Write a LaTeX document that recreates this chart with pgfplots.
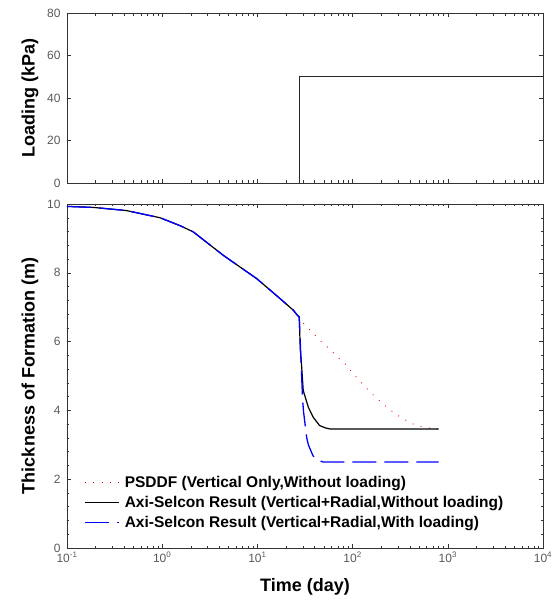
\documentclass[border=0pt]{standalone}
\usepackage{fontspec}
\setmainfont{Liberation Sans}
\usepackage{pgfplots}
\pgfplotsset{compat=1.18}
\begin{document}
\begin{tikzpicture}
\begin{semilogxaxis}[name=bot, scale only axis, width=476pt, height=344pt,
  xmin=0.1, xmax=10000,
  axis line style={black!80, line width=0.7pt},
  major tick length=4pt, minor tick length=2.5pt,
  tick style={black!80, line width=0.5pt},
  tick label style={font=\fontsize{12}{14}\selectfont, text=black!65},
  yticklabel style={xshift=-3pt, inner ysep=1pt},
  xticklabel style={yshift=-3pt, inner ysep=1pt},
  /pgf/number format/assume math mode=true,
  xlabel style={font=\fontsize{18}{21}\selectfont\bfseries, at={(axis description cs:0.5,-0.113)}, anchor=center},
  ylabel style={font=\fontsize{18}{21}\selectfont\bfseries, at={(axis description cs:-0.0777,0.5)}, anchor=center},
  xtick={0.1,1,10,100,1000,10000},
  ymin=0, ymax=10, ytick={0,2,4,6,8,10}, minor y tick num=4,
  xticklabels={10\textsuperscript{-1},10\textsuperscript{0},10\textsuperscript{1},10\textsuperscript{2},10\textsuperscript{3},10\textsuperscript{4}},
  xlabel={Time (day)},
  ylabel={Thickness of Formation (m)},
  legend style={at={(axis description cs:0.030,0.222)}, anchor=north west, draw=none, fill=none,
    font=\fontsize{15.5}{17}\selectfont\bfseries, row sep=3.5pt,
    /tikz/every odd column/.append style={column sep=3pt}},
  legend cell align=left,
  legend image code/.code={\draw (0pt,0pt) -- (34pt,0pt);},
]
\addplot[red, line width=0.9pt, dash pattern=on 0.9pt off 7.4pt] coordinates {
(0.1,9.93) (0.19,9.90) (0.42,9.81) (0.95,9.60) (1.54,9.37) (2.12,9.19) (4.37,8.51) (9.84,7.83) (17.3,7.25) (23.9,6.91) (26.4,6.76) (27.5,6.72)
(30,6.55) (45.7,6.03) (56,5.81) (67.6,5.58) (83,5.36) (99,5.1) (120,4.85) (145,4.6) (178,4.36) (214,4.16)
(269,3.94) (324,3.79) (398,3.65) (479,3.55) (603,3.5) (740,3.47) (800,3.46)};
\addlegendentry{PSDDF (Vertical Only,Without loading)}
\addplot[black, line width=1.2pt] coordinates {
(0.1,9.93) (0.19,9.90) (0.42,9.81) (0.95,9.60) (1.54,9.37) (2.12,9.19) (4.37,8.51) (9.84,7.83) (17.3,7.25) (23.9,6.91) (26.4,6.76) (27.5,6.72)
(28.2,5.8) (29.2,5.25) (30.3,4.58) (34.3,4.09) (38.6,3.80) (45,3.56) (52,3.49) (58,3.46) (800,3.46)};
\addlegendentry{Axi-Selcon Result (Vertical+Radial,Without loading)}
\addplot[blue, line width=1.3pt, dash pattern=on 24pt off 8pt] coordinates {
(0.1,9.93) (0.19,9.90) (0.42,9.81) (0.95,9.60) (1.54,9.37) (2.12,9.19) (4.37,8.51) (9.84,7.83) (17.3,7.25) (23.9,6.91) (26.4,6.76) (27.5,6.72)
(29.2,4.95) (29.9,4.28) (30.5,3.97) (33,3.2) (34.3,3.0) (38.4,2.68) (43,2.56) (49,2.5) (800,2.5)};
\addlegendentry{Axi-Selcon Result (Vertical+Radial,With loading)}
\end{semilogxaxis}
\begin{semilogxaxis}[scale only axis, width=476pt, height=170pt,
  at={(bot.north west)}, anchor=south west, yshift=21pt,
  xmin=0.1, xmax=10000,
  axis line style={black!80, line width=0.7pt},
  major tick length=4pt, minor tick length=2.5pt,
  tick style={black!80, line width=0.5pt},
  tick label style={font=\fontsize{12}{14}\selectfont, text=black!65},
  yticklabel style={xshift=-3pt, inner ysep=1pt},
  /pgf/number format/assume math mode=true,
  ylabel style={font=\fontsize{18}{21}\selectfont\bfseries, at={(axis description cs:-0.0777,0.5)}, anchor=center},
  xtick={0.1,1,10,100,1000,10000},
  ymin=0, ymax=80, ytick={0,20,40,60,80},
  xticklabels={},
  ylabel={Loading (kPa)},
]
\addplot[black!85, line width=0.7pt] coordinates {(0.1,0) (27.5,0) (27.5,50) (10000,50)};
\end{semilogxaxis}
\path (bot.south west) ++(-67pt,-60pt) rectangle ++(557pt,608pt);
\end{tikzpicture}
\end{document}
